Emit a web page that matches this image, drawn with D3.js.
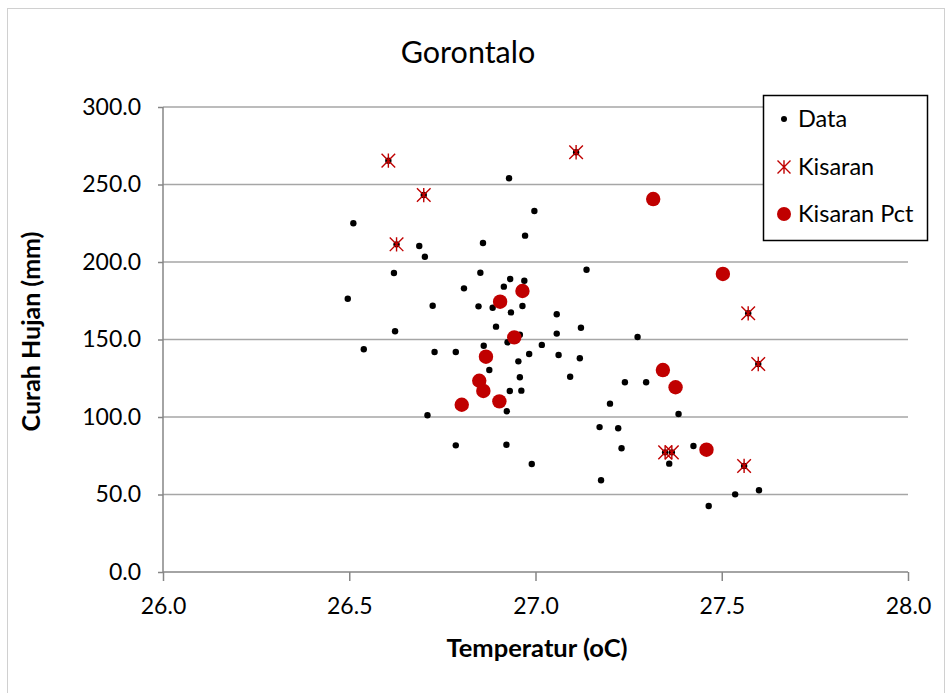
<!DOCTYPE html>
<html><head><meta charset="utf-8">
<script src="https://cdn.jsdelivr.net/npm/d3@7"></script>
<style>body{margin:0;background:#fff}svg{display:block}</style>
</head><body><svg id="c" width="950" height="693"></svg>
<script>
const title = "Gorontalo";
const xTicks = [26.0, 26.5, 27.0, 27.5, 28.0];
const yTicks = [0, 50, 100, 150, 200, 250, 300];
const seriesNames = ["Data", "Kisaran", "Kisaran Pct"];

// Data series: [temperature, rainfall]
const dataT = [26.605,26.929,26.70,26.997,26.511,26.972,26.627,26.688,26.859,26.703,26.620,26.852,26.932,26.970,26.915,26.808,
  26.496,26.724,26.847,26.885,26.965,26.934,27.057,26.894,26.623,27.057,26.958,26.925,26.861,27.017,26.539,26.729,26.786,
  26.983,27.062,26.954,26.876,26.958,26.931,26.962,26.923,26.710,26.786,26.922,26.990,27.109,27.137,27.571,27.122,27.274,
  27.119,27.598,27.093,27.240,27.297,27.200,27.384,27.172,27.222,27.231,27.348,27.366,27.424,27.359,27.560,27.176,27.536,
  27.600,27.465,26.965,26.905,26.943,26.867,26.849,26.860,26.903,26.802,27.316,27.503,27.342,27.376,27.459];
const dataR = [265.4,254.0,243.2,232.9,225.0,217.0,211.4,210.3,212.3,203.4,192.9,193.1,189.0,187.9,184.1,183.0,
  176.3,171.8,171.4,170.5,171.6,167.5,166.3,158.3,155.3,153.8,153.1,148.2,146.0,146.5,143.7,141.9,141.9,
  140.6,140.0,135.9,130.3,125.6,116.8,117.0,103.7,101.1,81.7,82.1,69.7,270.8,195.0,166.9,157.6,151.6,
  137.9,134.2,126.0,122.4,122.4,108.6,101.9,93.5,92.7,79.8,77.2,77.2,81.3,69.9,68.4,59.2,50.1,
  52.7,42.6,181.3,174.4,151.4,138.9,123.4,116.8,110.1,107.9,240.6,192.3,130.3,119.2,78.9];

// Kisaran series
const kisT = [26.605,26.70,26.627,27.109,27.571,27.598,27.348,27.366,27.560];
const kisR = [265.4,243.2,211.4,270.8,166.9,134.2,77.2,77.2,68.4];

// Kisaran Pct series
const pctT = [26.965,26.905,26.943,26.867,26.849,26.860,26.903,26.802,27.316,27.503,27.342,27.376,27.459];
const pctR = [181.3,174.4,151.4,138.9,123.4,116.8,110.1,107.9,240.6,192.3,130.3,119.2,78.9];

const svg = d3.select("#c");
const font = "Lato, 'Open Sans', sans-serif";
const red = "#c00000";
const gridC = "#a6a6a6", axisC = "#868686";

// outer chart border
svg.append("rect").attr("x",7.5).attr("y",8.5).attr("width",937).attr("height",700)
  .attr("fill","none").attr("stroke","#d0d0d0").attr("stroke-width",1);

const L = 163, R = 908, T = 107, B = 572;
const x = d3.scaleLinear().domain([26,28]).range([L,R]);
const y = d3.scaleLinear().domain([0,300]).range([B,T]);

// gridlines
svg.append("g").selectAll("line").data(yTicks.filter(d=>d>0)).join("line")
  .attr("x1",L).attr("x2",R).attr("y1",d=>y(d)).attr("y2",d=>y(d))
  .attr("stroke",gridC).attr("stroke-width",1.5);

// axes
const yAxis = svg.append("g").attr("transform",`translate(${L},0)`)
  .call(d3.axisLeft(y).tickValues(yTicks).tickFormat(d3.format(".1f")).tickSize(5).tickPadding(17));
const xAxis = svg.append("g").attr("transform",`translate(0,${B})`)
  .call(d3.axisBottom(x).tickValues(xTicks).tickFormat(d3.format(".1f")).tickSize(9).tickPadding(17));
[yAxis,xAxis].forEach(a=>{
  a.select(".domain").attr("stroke",axisC).attr("stroke-width",1.5);
  a.selectAll(".tick line").attr("stroke",axisC).attr("stroke-width",1.5);
  a.selectAll("text").attr("font-family",font).attr("font-size",23).attr("fill","#000");
});
yAxis.select(".domain").attr("d",`M0,${B}V${T}`);
xAxis.select(".domain").attr("d",`M${L},0H${R}`);

// titles
svg.append("text").attr("x",468).attr("y",63).attr("text-anchor","middle")
  .attr("font-family",font).attr("font-size",30.5).text(title);
svg.append("text").attr("x",537).attr("y",657).attr("text-anchor","middle")
  .attr("font-family",font).attr("font-size",25.5).attr("font-weight","bold").text("Temperatur (oC)");
svg.append("text").attr("transform",`translate(40,${(T+B)/2 - 8}) rotate(-90)`).attr("text-anchor","middle")
  .attr("font-family",font).attr("font-size",25).attr("font-weight","bold").text("Curah Hujan (mm)");

// star marker path (X with vertical line)
function starPath(s){ return `M${-s},${-s}L${s},${s}M${-s},${s}L${s},${-s}M0,${-s*1.05}L0,${s*1.05}`; }

const dataPts = dataT.map((t,i)=>[t,dataR[i]]);
const kisPts = kisT.map((t,i)=>[t,kisR[i]]);
const pctPts = pctT.map((t,i)=>[t,pctR[i]]);

svg.append("g").selectAll("circle").data(dataPts).join("circle")
  .attr("cx",d=>x(d[0])).attr("cy",d=>y(d[1])).attr("r",3.2).attr("fill","#000");
svg.append("g").selectAll("path").data(kisPts).join("path")
  .attr("transform",d=>`translate(${x(d[0])},${y(d[1])})`).attr("d",starPath(6.8))
  .attr("stroke",red).attr("stroke-width",1.4).attr("fill","none");
svg.append("g").selectAll("circle").data(pctPts).join("circle")
  .attr("cx",d=>x(d[0])).attr("cy",d=>y(d[1])).attr("r",7.2).attr("fill",red);

// legend
const lg = svg.append("g");
lg.append("rect").attr("x",763.5).attr("y",95.5).attr("width",164).attr("height",145)
  .attr("fill","#fff").attr("stroke","#000").attr("stroke-width",1.5);
const ly = [119,167,214];
lg.append("circle").attr("cx",784).attr("cy",ly[0]).attr("r",3).attr("fill","#000");
lg.append("path").attr("transform",`translate(784,${ly[1]})`).attr("d",starPath(6.5))
  .attr("stroke",red).attr("stroke-width",1.4).attr("fill","none");
lg.append("circle").attr("cx",784).attr("cy",ly[2]).attr("r",7).attr("fill",red);
lg.selectAll("text.l").data(seriesNames).join("text").attr("class","l")
  .attr("x",798).attr("y",(d,i)=>ly[i]).attr("dy","0.35em")
  .attr("font-family",font).attr("font-size",23.5).text(d=>d);
</script></body></html>
